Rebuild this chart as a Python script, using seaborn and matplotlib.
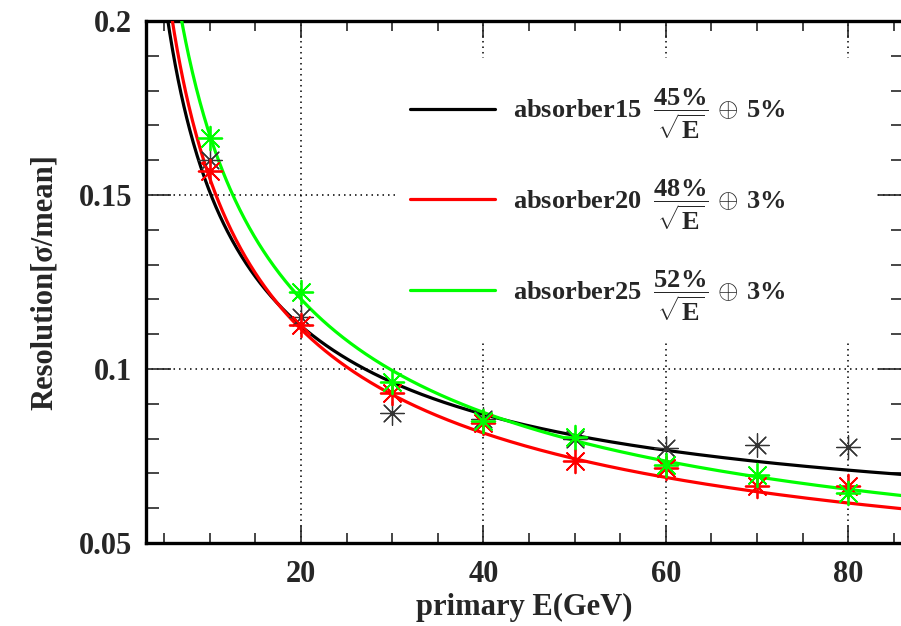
import numpy as np
import pandas as pd
import matplotlib
matplotlib.use("Agg")
import matplotlib.pyplot as plt
import seaborn as sns
from matplotlib.ticker import MultipleLocator, FuncFormatter
from matplotlib.patches import Rectangle

# Measured energy resolution for three absorber thicknesses
energy = [10, 20, 30, 40, 50, 60, 70, 80]
res_absorber15 = [0.160, 0.115, 0.0875, 0.0855, 0.0800, 0.0772, 0.0783, 0.0775]
res_absorber20 = [0.1568, 0.1127, 0.0930, 0.0846, 0.0735, 0.0715, 0.0663, 0.0663]
res_absorber25 = [0.1665, 0.1221, 0.0964, 0.0852, 0.0805, 0.0723, 0.0695, 0.0643]

# Fit parameters: stochastic term (%) and constant term (%)
series_names = ["absorber15", "absorber20", "absorber25"]
stochastic_pct = [45, 48, 52]
constant_pct = [5, 3, 3]
colors = ["#000000", "#ff0000", "#00ff00"]

sns.set_theme(style="ticks")
plt.rcParams["font.family"] = ["Liberation Serif", "DejaVu Serif"]
plt.rcParams["font.weight"] = "bold"
plt.rcParams["mathtext.fontset"] = "custom"
plt.rcParams["mathtext.rm"] = "Liberation Serif:bold"
plt.rcParams["mathtext.it"] = "Liberation Serif:bold"
plt.rcParams["mathtext.bf"] = "Liberation Serif:bold"

fig = plt.figure(figsize=(9.01, 6.26), dpi=100)
ax = fig.add_axes([146 / 901, 83 / 626, 757 / 901, 522 / 626])

xmin, xmax = 3, 86
ymin, ymax = 0.05, 0.2

# fit curves sigma/E = a/sqrt(E) (+) c
e_fine = np.linspace(xmin, xmax, 800)
fit_frames = []
for name, a, c in zip(series_names, stochastic_pct, constant_pct):
    res = np.sqrt((a / 100) ** 2 / e_fine + (c / 100) ** 2)
    fit_frames.append(pd.DataFrame({"E": e_fine, "res": res, "series": name}))
fits = pd.concat(fit_frames, ignore_index=True)

labels = [
    rf"{n}  $\dfrac{{{a}\%}}{{\sqrt{{E}}}}\,\oplus\,${c}%"
    for n, a, c in zip(series_names, stochastic_pct, constant_pct)
]

line_handles = []
for name, col, lab in zip(series_names, colors, labels):
    d = fits[fits["series"] == name]
    sns.lineplot(data=d, x="E", y="res", color=col, lw=2.3, ax=ax,
                 estimator=None, sort=False, zorder=3)
    line_handles.append(ax.lines[-1])

points = pd.DataFrame({
    "E": energy * 3,
    "res": res_absorber15 + res_absorber20 + res_absorber25,
    "series": ["absorber15"] * 8 + ["absorber20"] * 8 + ["absorber25"] * 8,
})
marker_colors = ["#333333", "#ff0000", "#00ff00"]
for name, col in zip(series_names, marker_colors):
    d = points[points["series"] == name]
    sns.scatterplot(data=d, x="E", y="res", marker=(8, 2, 0), s=290,
                    color=col, edgecolor=col,
                    linewidth=0.9 if name == "absorber15" else 1.3,
                    ax=ax, zorder=4, legend=False)

ax.set_xlim(xmin, xmax)
ax.set_ylim(ymin, ymax)

# grid and axes styling
ax.grid(True, which="major", color="black", linestyle=(0, (1, 2.6)), lw=1.1)
ax.set_axisbelow(True)
ax.xaxis.set_major_locator(MultipleLocator(20))
ax.xaxis.set_minor_locator(MultipleLocator(5))
ax.yaxis.set_major_locator(MultipleLocator(0.05))
ax.yaxis.set_minor_locator(MultipleLocator(0.01))
ax.yaxis.set_major_formatter(FuncFormatter(lambda v, p: f"{v:g}"))
ax.tick_params(axis="x", which="major", direction="in", length=12, width=1.2,
               top=True, labelsize=22, pad=12)
ax.tick_params(axis="x", which="minor", direction="in", length=7, width=1.2, top=True)
ax.tick_params(axis="y", which="major", direction="in", length=18, width=1.2,
               right=True, labelsize=22, pad=10)
ax.tick_params(axis="y", which="minor", direction="in", length=9, width=1.2, right=True)
for sp in ax.spines.values():
    sp.set_linewidth(2.4)
    sp.set_color("black")
for lab in ax.get_xticklabels() + ax.get_yticklabels():
    lab.set_fontweight("bold")

ax.set_xlabel("primary E(GeV)", fontsize=22, fontweight="bold", labelpad=3)
ax.set_ylabel("Resolution[σ/mean]", fontsize=22, fontweight="bold", labelpad=14)

# white panel behind the legend
ax.add_patch(Rectangle((0.329, 0.385), 0.637, 0.544, transform=ax.transAxes,
                       facecolor="white", edgecolor="none", zorder=1.5))

leg = ax.legend(line_handles, labels, loc="upper left",
                bbox_to_anchor=(0.318, 0.92), frameon=False,
                fontsize=19, handlelength=3.2, handletextpad=0.7,
                labelspacing=1.35, borderpad=0.4)
leg.set_zorder(6)
for t in leg.get_texts():
    t.set_fontweight("bold")

fig.savefig("out.png", dpi=100)
